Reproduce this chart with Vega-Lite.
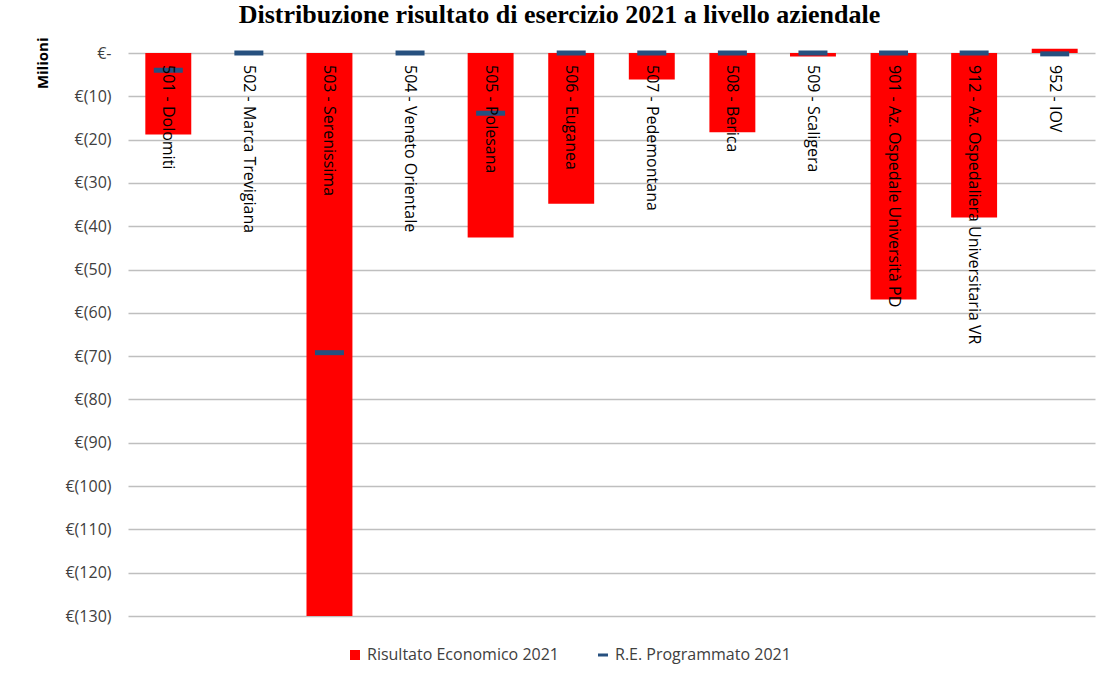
{
  "$schema": "https://vega.github.io/schema/vega-lite/v6.json",
  "width": 967,
  "height": 563,
  "autosize": {"type": "none"},
  "padding": {"left": 128, "top": 53, "right": 7, "bottom": 61},
  "background": "white",
  "config": {"view": {"stroke": null}},
  "title": {
    "text": "Distribuzione risultato di esercizio 2021 a livello aziendale",
    "font": "Liberation Serif",
    "fontSize": 26,
    "fontWeight": "bold",
    "color": "black",
    "anchor": "middle",
    "frame": "group",
    "dx": -52,
    "baseline": "alphabetic",
    "offset": -12
  },
  "data": {
    "values": [
      {"azienda": "501 - Dolomiti", "serie": "Risultato Economico 2021", "valore": -18.8},
      {"azienda": "502 - Marca Trevigiana", "serie": "Risultato Economico 2021", "valore": 0},
      {"azienda": "503 - Serenissima", "serie": "Risultato Economico 2021", "valore": -130},
      {"azienda": "504 - Veneto Orientale", "serie": "Risultato Economico 2021", "valore": 0},
      {"azienda": "505 - Polesana", "serie": "Risultato Economico 2021", "valore": -42.6},
      {"azienda": "506 - Euganea", "serie": "Risultato Economico 2021", "valore": -34.8},
      {"azienda": "507 - Pedemontana", "serie": "Risultato Economico 2021", "valore": -6.1},
      {"azienda": "508 - Berica", "serie": "Risultato Economico 2021", "valore": -18.3},
      {"azienda": "509 - Scaligera", "serie": "Risultato Economico 2021", "valore": -0.8},
      {"azienda": "901 - Az. Ospedale Università PD", "serie": "Risultato Economico 2021", "valore": -56.9},
      {"azienda": "912 - Az. Ospedaliera Universitaria VR", "serie": "Risultato Economico 2021", "valore": -38.0},
      {"azienda": "952 - IOV", "serie": "Risultato Economico 2021", "valore": 1.0},
      {"azienda": "501 - Dolomiti", "serie": "R.E. Programmato 2021", "valore": -4.0},
      {"azienda": "502 - Marca Trevigiana", "serie": "R.E. Programmato 2021", "valore": 0},
      {"azienda": "503 - Serenissima", "serie": "R.E. Programmato 2021", "valore": -69.2},
      {"azienda": "504 - Veneto Orientale", "serie": "R.E. Programmato 2021", "valore": 0},
      {"azienda": "505 - Polesana", "serie": "R.E. Programmato 2021", "valore": -13.9},
      {"azienda": "506 - Euganea", "serie": "R.E. Programmato 2021", "valore": 0},
      {"azienda": "507 - Pedemontana", "serie": "R.E. Programmato 2021", "valore": 0},
      {"azienda": "508 - Berica", "serie": "R.E. Programmato 2021", "valore": 0},
      {"azienda": "509 - Scaligera", "serie": "R.E. Programmato 2021", "valore": 0},
      {"azienda": "901 - Az. Ospedale Università PD", "serie": "R.E. Programmato 2021", "valore": 0},
      {"azienda": "912 - Az. Ospedaliera Universitaria VR", "serie": "R.E. Programmato 2021", "valore": 0},
      {"azienda": "952 - IOV", "serie": "R.E. Programmato 2021", "valore": -0.2}
    ]
  },
  "encoding": {
    "x": {
      "field": "azienda",
      "type": "nominal",
      "sort": null,
      "axis": null,
      "scale": {"paddingInner": 0.43, "paddingOuter": 0.215}
    }
  },
  "layer": [
    {
      "transform": [{"filter": "datum.serie === 'Risultato Economico 2021'"}],
      "mark": {"type": "bar"},
      "encoding": {
        "y": {
          "field": "valore",
          "type": "quantitative",
          "scale": {"domain": [-130, 0], "nice": false},
          "axis": {
            "title": "Milioni",
            "titleFont": "Open Sans",
            "titleFontSize": 15,
            "titleFontWeight": "bold",
            "titleColor": "black",
            "titleAngle": -90,
            "titleAlign": "right",
            "titleBaseline": "middle",
            "titleX": -86,
            "titleY": -16,
            "values": [0, -10, -20, -30, -40, -50, -60, -70, -80, -90, -100, -110, -120, -130],
            "labelExpr": "datum.value == 0 ? '€-' : '€(' + abs(datum.value) + ')'",
            "labelFont": "Open Sans",
            "labelFontSize": 16,
            "labelColor": "#404040",
            "labelPadding": 17,
            "ticks": false,
            "domain": false,
            "grid": true,
            "gridColor": "#bfbfbf",
            "gridWidth": 1.3
          }
        },
        "color": {
          "field": "serie",
          "type": "nominal",
          "scale": {
            "domain": ["Risultato Economico 2021", "R.E. Programmato 2021"],
            "range": ["#ff0000", "#26507f"]
          },
          "legend": {
            "title": null,
            "orient": "none",
            "legendX": 219,
            "legendY": 594,
            "direction": "horizontal",
            "labelFont": "Open Sans",
            "labelFontSize": 16,
            "labelColor": "#404040",
            "labelOffset": 4,
            "labelLimit": 400,
            "columnPadding": 36,
            "symbolSize": 100,
            "symbolType": "square",
            "symbolStrokeWidth": 0,
            "symbolOpacity": 1,
            "encode": {
              "symbols": {
                "update": {
                  "shape": {"signal": "datum.value === 'R.E. Programmato 2021' ? 'M-1,-0.3H1V0.3H-1Z' : 'square'"}
                }
              }
            }
          }
        }
      }
    },
    {
      "transform": [{"filter": "datum.serie === 'R.E. Programmato 2021'"}],
      "mark": {"type": "tick", "size": 29, "thickness": 5, "opacity": 1},
      "encoding": {
        "y": {"field": "valore", "type": "quantitative"},
        "color": {"field": "serie", "type": "nominal"}
      }
    },
    {
      "transform": [{"filter": "datum.serie === 'Risultato Economico 2021'"}],
      "mark": {
        "type": "text",
        "angle": 90,
        "align": "left",
        "baseline": "middle",
        "dx": 12,
        "font": "Open Sans",
        "fontSize": 16,
        "color": "black"
      },
      "encoding": {
        "y": {"datum": 0},
        "text": {"field": "azienda"}
      }
    }
  ]
}
